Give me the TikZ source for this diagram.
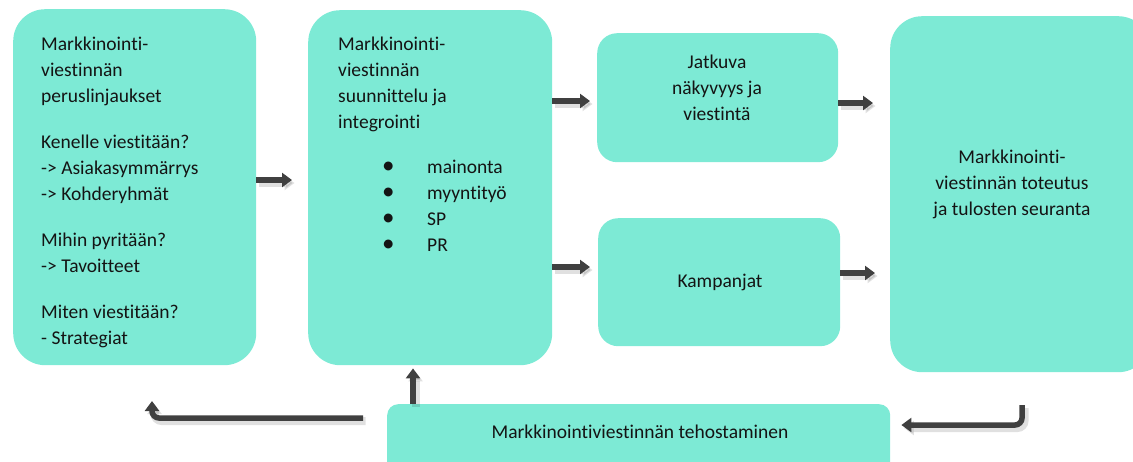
\documentclass[tikz,border=0pt]{standalone}
\usepackage{fontspec}
\setmainfont{Carlito}[Ligatures=NoCommon]
\usetikzlibrary{arrows.meta}
\definecolor{boxfill}{RGB}{125,234,213}
\definecolor{arrowgray}{RGB}{64,64,64}
\definecolor{txt}{RGB}{20,20,20}
\newcommand{\bigbul}{{\fontsize{25}{26}\selectfont•}}
\begin{document}
\begin{tikzpicture}[x=1pt,y=-1pt,
  box/.style={fill=boxfill, draw=none, inner sep=0pt, anchor=north west},
  lbl/.style={inner sep=0pt, text=txt, font=\fontsize{19.5}{26}\selectfont},
  arr/.style={draw=arrowgray, line width=5.5pt, -{Triangle[width=14pt,length=10pt]},
    preaction={draw=black, opacity=0.12, line width=8pt, transform canvas={shift={(2.5,3)}}}},
]
\useasboundingbox (0,0) rectangle (1133,461);
\clip (0,0) rectangle (1133,461);
% boxes
\node[box, rounded corners=32pt, minimum width=243pt, minimum height=356pt] (b1) at (13,9) {};
\node[box, rounded corners=32pt, minimum width=244pt, minimum height=355pt] (b2) at (308,10) {};
\node[box, rounded corners=20pt, minimum width=241pt, minimum height=129pt] (b3) at (597,33) {};
\node[box, rounded corners=20pt, minimum width=242pt, minimum height=128pt] (b4) at (598,218) {};
\node[box, rounded corners=32pt, minimum width=260pt, minimum height=356pt] (b5) at (890,16) {};
\node[box, rounded corners=11pt, minimum width=503pt, minimum height=80pt] (b6) at (387,404) {};
% texts
\node[lbl, anchor=north west, align=left] (t1) at (41,32.3) {\strut Markkinointi-\\viestinnän\\peruslinjaukset\\[20pt]
Kenelle viestitään?\\-> Asiakasymmärrys\\-> Kohderyhmät\\[20pt]
Mihin pyritään?\\-> Tavoitteet\\[20pt]
Miten viestitään?\\- Strategiat};
\node[lbl, anchor=north west, align=left] (t2) at (338,32.3) {\strut Markkinointi-\\viestinnän\\suunnittelu ja\\integrointi\\[19pt]
\hspace*{44pt}\makebox[45pt][l]{\bigbul}mainonta\\
\hspace*{44pt}\makebox[45pt][l]{\bigbul}myyntityö\\
\hspace*{44pt}\makebox[45pt][l]{\bigbul}SP\\
\hspace*{44pt}\makebox[45pt][l]{\bigbul}PR};
\node[lbl, anchor=north, align=center] (t3) at (717,50.3) {\strut Jatkuva\\näkyvyys ja\\viestintä};
\node[lbl, anchor=north, align=center] (t4) at (720,269.3) {\strut Kampanjat};
\node[lbl, anchor=north, align=center] (t5) at (1012,145.3) {\strut Markkinointi-\\viestinnän toteutus\\ja tulosten seuranta};
\node[lbl, anchor=north, align=center] (t6) at (640,420.3) {\strut Markkinointiviestinnän tehostaminen};
% connectors
\coordinate (lstart) at (363,418);
\coordinate (lend) at (152,401);
\coordinate (rstart) at (1022,405);
\draw[arr, shorten >=16pt] (b1.east |- 0,180) -- (b2.west |- 0,180);
\draw[arr, shorten >=7pt] (b2.east |- 0,101) -- (b3.west |- 0,101);
\draw[arr, shorten >=8pt] (b2.east |- 0,267) -- (b4.west |- 0,267);
\draw[arr, shorten >=17pt] (b3.east |- 0,103) -- (b5.west |- 0,103);
\draw[arr, shorten >=15pt] (b4.east |- 0,273) -- (b5.west |- 0,273);
\draw[arr, shorten >=3pt] (b6.north -| 413,0) -- (b2.south -| 413,0);
\draw[arr, rounded corners=7pt] (lstart) -| (lend);
\draw[arr, rounded corners=7pt, shorten >=11pt] (rstart) |- (b6.east |- 0,425);
\end{tikzpicture}
\end{document}
